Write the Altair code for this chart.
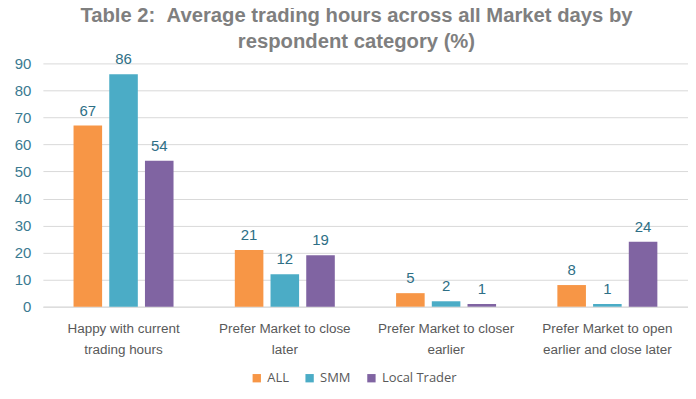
import altair as alt
import pandas as pd

categories = [
    "Happy with current trading hours",
    "Prefer Market to close later",
    "Prefer Market to closer earlier",
    "Prefer Market to open earlier and close later",
]
label_lines = {
    "Happy with current trading hours": ["Happy with current", "trading hours"],
    "Prefer Market to close later": ["Prefer Market to close", "later"],
    "Prefer Market to closer earlier": ["Prefer Market to closer", "earlier"],
    "Prefer Market to open earlier and close later": ["Prefer Market to open", "earlier and close later"],
}
series = ["ALL", "SMM", "Local Trader"]
colors = ["#f79646", "#4bacc6", "#8064a2"]
all_vals = [67, 21, 5, 8]
smm_vals = [86, 12, 2, 1]
lt_vals = [54, 19, 1, 24]
y_ticks = [0, 10, 20, 30, 40, 50, 60, 70, 80, 90]

rows = []
for s, vals in zip(series, [all_vals, smm_vals, lt_vals]):
    for c, v in zip(categories, vals):
        rows.append({"category": c, "series": s, "value": v})
df = pd.DataFrame(rows)

expr_map = "{" + ",".join(
    "'" + k + "':[" + ",".join("'" + l + "'" for l in v) + "]" for k, v in label_lines.items()
) + "}"

x = alt.X(
    "category:N",
    sort=categories,
    scale=alt.Scale(paddingInner=0.38, paddingOuter=0.19),
    axis=alt.Axis(
        title=None,
        labelAngle=0,
        labelExpr=expr_map + "[datum.label]",
        labelFont="Liberation Sans",
        labelFontSize=13.5,
        labelColor="#595959",
        labelPadding=15,
        ticks=False,
        domainColor="#d9d9d9",
        labelLineHeight=21,
    ),
)
xoff = alt.XOffset("series:N", sort=series, scale=alt.Scale(paddingInner=0.2))
y = alt.Y(
    "value:Q",
    scale=alt.Scale(domain=[0, 90]),
    axis=alt.Axis(
        title=None,
        values=y_ticks,
        tickCount=10,
        labelOverlap=False,
        labelFont="Liberation Sans",
        labelFontSize=15,
        labelColor="#3a7a91",
        labelPadding=12,
        minExtent=35,
        ticks=False,
        domain=False,
        gridColor="#d9d9d9",
    ),
)

base = alt.Chart(df).encode(x=x, xOffset=xoff, y=y)

bars = base.mark_bar().encode(
    color=alt.Color(
        "series:N",
        sort=series,
        scale=alt.Scale(domain=series, range=colors),
        legend=alt.Legend(
            title=None,
            orient="none",
            legendX=208,
            legendY=309,
            direction="horizontal",
            symbolType="square",
            symbolSize=70,
            labelFont="Open Sans",
            labelFontSize=13,
            labelColor="#595959",
            columnPadding=14,
        ),
    ),
)

labels = base.mark_text(
    dy=-15, font="Liberation Sans", fontSize=15, color="#2e6f86"
).encode(text="value:Q")

chart = (
    alt.layer(bars, labels)
    .properties(
        width=647,
        height=244,
        padding={"top": -3, "left": 0, "right": 0, "bottom": 0},
        title=alt.TitleParams(
            text=[
                "Table 2:\u00a0\u00a0Average trading hours across all Market days by",
                "respondent category (%)",
            ],
            font="Liberation Sans",
            fontSize=20.3,
            fontWeight="bold",
            color="#7f7f7f",
            lineHeight=26,
            anchor="middle",
            offset=0,
            dx=-9,
        ),
    )
    .configure_view(stroke=None)
)

chart.save("out.html", embed_options={"renderer": "svg", "actions": False})
